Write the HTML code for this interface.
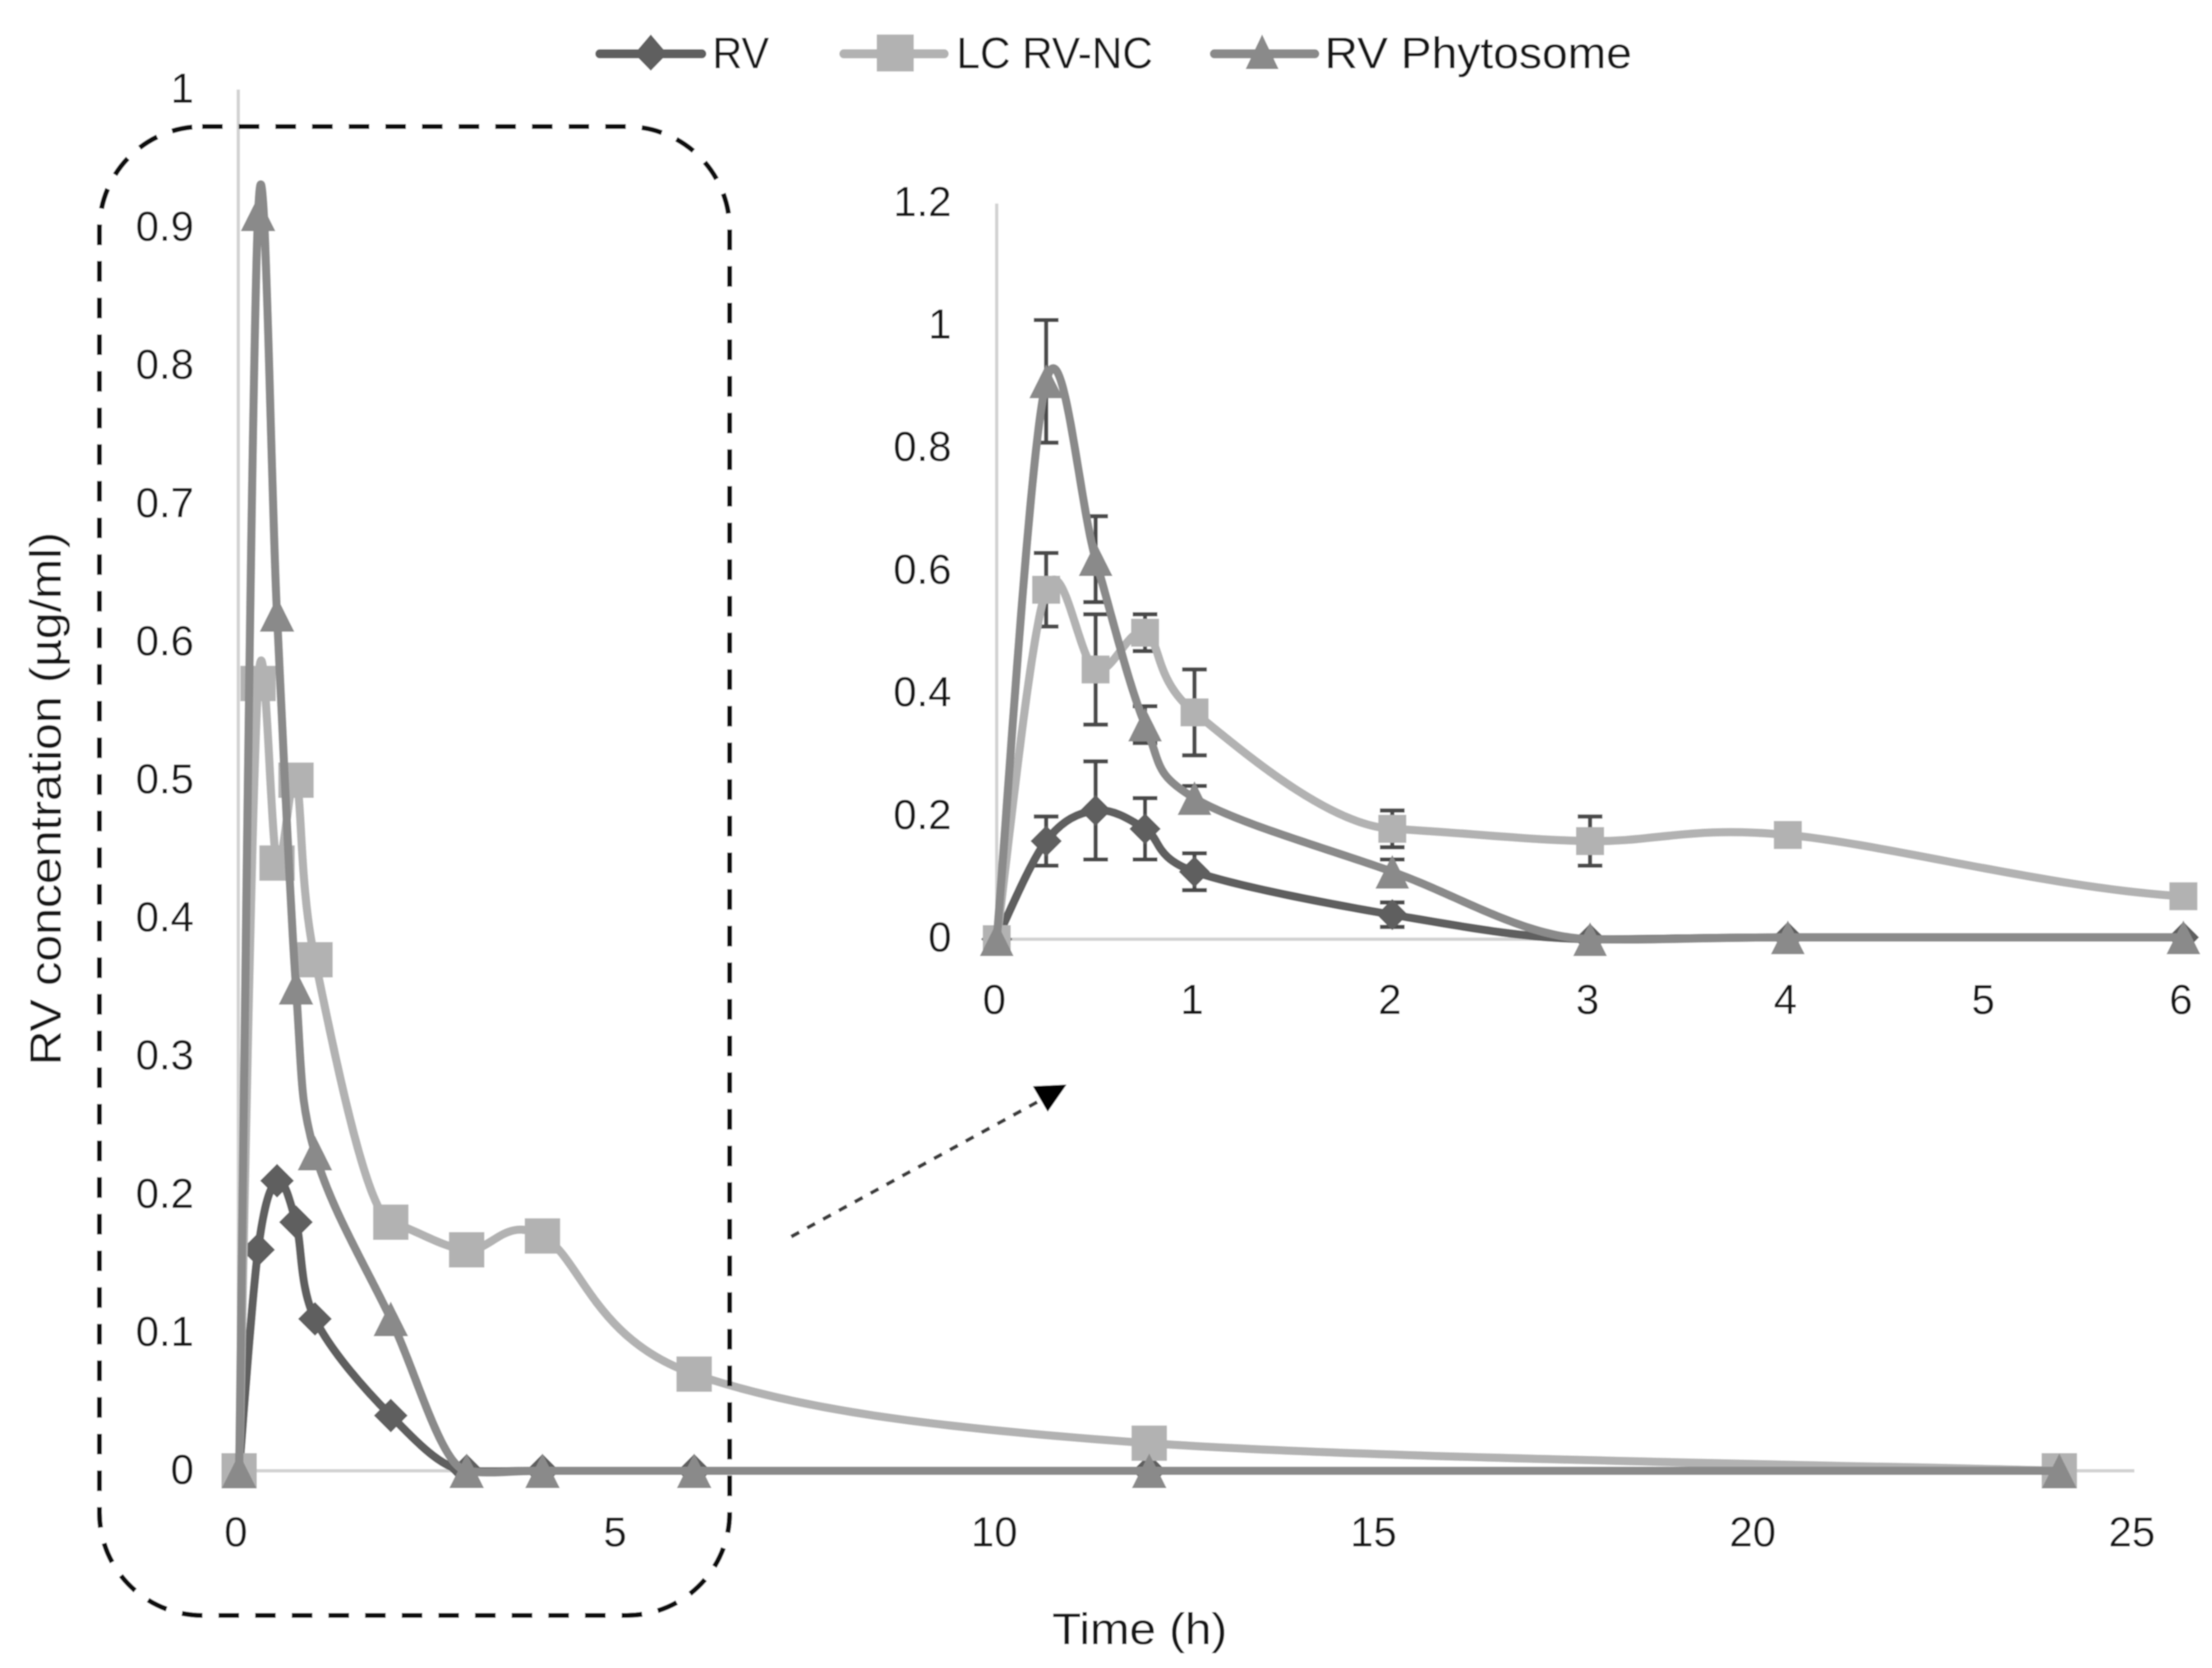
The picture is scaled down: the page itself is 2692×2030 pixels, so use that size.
<!DOCTYPE html>
<html lang="en">
<head>
<meta charset="utf-8">
<title>RV concentration over time</title>
<style>
html,body{margin:0;padding:0;background:#fff;}
svg{display:block;font-family:"Liberation Sans",sans-serif;}
text{fill:#141414;}
</style>
</head>
<body>
<svg id="chart" xmlns="http://www.w3.org/2000/svg" width="2692" height="2030" viewBox="0 0 2692 2030">
<defs><filter id="soft" x="0" y="0" width="100%" height="100%"><feGaussianBlur stdDeviation="0.9"/></filter></defs>
<g id="root" filter="url(#soft)">
<rect x="0" y="0" width="2692" height="2030" fill="#ffffff"/>
<g id="main-plot"></g>
<g id="inset-plot"></g>
<g>
  <g>
    <line x1="730" y1="65.5" x2="854" y2="65.5" stroke="#5f5f5f" stroke-width="11" stroke-linecap="round"/>
    <polygon points="792,42 812,65.5 792,86 772,65.5" fill="#5f5f5f"/>
    <text x="867" y="83" font-size="54" textLength="69" lengthAdjust="spacingAndGlyphs">RV</text>
  </g>
  <g>
    <line x1="1027" y1="65.5" x2="1149" y2="65.5" stroke="#b2b2b2" stroke-width="11" stroke-linecap="round"/>
    <rect x="1067" y="42" width="45" height="45" fill="#b2b2b2"/>
    <text x="1164" y="83" font-size="54" textLength="239" lengthAdjust="spacingAndGlyphs">LC RV-NC</text>
  </g>
  <g>
    <line x1="1478" y1="65.5" x2="1600" y2="65.5" stroke="#8a8a8a" stroke-width="11" stroke-linecap="round"/>
    <polygon points="1536,42 1556,84 1516,84" fill="#8a8a8a"/>
    <text x="1612" y="83" font-size="54" textLength="374" lengthAdjust="spacingAndGlyphs">RV Phytosome</text>
  </g>
</g>
<text transform="translate(74,972) rotate(-90)" text-anchor="middle" font-size="54" textLength="649" lengthAdjust="spacingAndGlyphs">RV concentration (µg/ml)</text>
<text x="1387" y="2001" text-anchor="middle" font-size="54" textLength="213" lengthAdjust="spacingAndGlyphs">Time (h)</text>
<rect x="121" y="154" width="767" height="1812" rx="125" ry="125" fill="none" stroke="#0a0a0a" stroke-width="6" stroke-dasharray="25 19.6"/>
<line x1="963" y1="1505" x2="1270" y2="1337" stroke="#3a3a3a" stroke-width="4.5" stroke-dasharray="11 11"/>
<polygon points="1257,1322 1298,1320 1275,1353" fill="#000000"/>
</g>
</svg>
<script>
// Shared data
const timePoints = [0, 0.25, 0.5, 0.75, 1, 2, 3, 4, 6, 12, 24];
const rvValues = [0, 0.16, 0.21, 0.18, 0.11, 0.04, 0, 0, 0, 0, 0];
const lcValues = [0, 0.57, 0.44, 0.5, 0.37, 0.18, 0.16, 0.17, 0.07, 0.02, 0];
const phytoValues = [0, 0.91, 0.62, 0.35, 0.23, 0.11, 0, 0, 0, 0, 0];
// Inset data (first 9 sampling points, with errors)
const insetTimePoints = [0, 0.25, 0.5, 0.75, 1, 2, 3, 4, 6];
const insetRvValues = [0, 0.16, 0.21, 0.18, 0.11, 0.04, 0, 0.003, 0.003];
const insetLcValues = [0, 0.57, 0.44, 0.5, 0.37, 0.18, 0.16, 0.17, 0.07];
const insetPhytoValues = [0, 0.91, 0.62, 0.35, 0.23, 0.11, 0, 0.003, 0.003];
const insetRvErrors = [0, 0.04, 0.08, 0.05, 0.03, 0.02, 0, 0, 0];
const insetLcErrors = [0, 0.06, 0.09, 0.03, 0.07, 0.03, 0.04, 0, 0];
const insetPhytoErrors = [0, 0.1, 0.07, 0.03, 0.02, 0.02, 0, 0, 0];
// The inset window cuts the series at 6 h; the next sample (12 h) still shapes the curve end.
const insetNextTime = 12;
const insetNextRv = 0.003;
const insetNextLc = 0.02;
const insetNextPhyto = 0.003;
// Tick labels
const mainXTicks = [0, 5, 10, 15, 20, 25];
const mainYTicks = [0, 0.1, 0.2, 0.3, 0.4, 0.5, 0.6, 0.7, 0.8, 0.9, 1];
const insetXTicks = [0, 1, 2, 3, 4, 5, 6];
const insetYTicks = [0, 0.2, 0.4, 0.6, 0.8, 1, 1.2];

const NS = 'http://www.w3.org/2000/svg';
const COLORS = { rv: '#5f5f5f', lc: '#b2b2b2', phyto: '#8a8a8a' };

const mainX = v => 291 + v * 92.3;
const mainY = v => 1790 - v * 1681;
const insetX = v => 1213 + v * 240.7;
const insetY = v => 1143 - v * 746;

function make(tag, parent, props) {
  const node = document.createElementNS(NS, tag);
  Object.keys(props).forEach(k => node.setAttribute(k, props[k]));
  parent.appendChild(node);
  return node;
}

function smoothPath(xs, ys, sx, sy, next) {
  const p = xs.map((x, i) => [sx(x), sy(ys[i])]);
  const n = p.length;
  const tangents = p.map((pt, i) => {
    const a = p[Math.max(i - 1, 0)], c = p[Math.min(i + 1, n - 1)];
    let tx = c[0] - a[0], ty = c[1] - a[1];
    const dyPrev = Math.abs(pt[1] - a[1]), dyNext = Math.abs(c[1] - pt[1]);
    // a curve running into a flat stretch barely overshoots
    if (i > 0 && i < n - 1 && dyPrev > 0 && dyNext < 0.15 * dyPrev) ty *= 0.15;
    return [tx, ty];
  });
  if (next) {
    const a = p[n - 2], q = [sx(next[0]), sy(next[1])];
    const slope = (q[1] - a[1]) / (q[0] - a[0]);
    const run = p[n - 1][0] - a[0];
    tangents[n - 1] = [run * 2, run * 2 * slope];
  }
  let d = 'M' + p[0][0].toFixed(1) + ' ' + p[0][1].toFixed(1);
  for (let i = 0; i < n - 1; i++) {
    const b = p[i], c = p[i + 1], t1 = tangents[i], t2 = tangents[i + 1];
    d += 'C' + [b[0] + t1[0] / 6, b[1] + t1[1] / 6, c[0] - t2[0] / 6, c[1] - t2[1] / 6, c[0], c[1]].map(v => v.toFixed(1)).join(' ');
  }
  return d;
}

function drawMarker(parent, kind, cx, cy, size, color) {
  const h = size / 2;
  if (kind === 'square') {
    return make('rect', parent, { x: cx - h, y: cy - h, width: size, height: size, fill: color });
  }
  if (kind === 'diamond') {
    return make('polygon', parent, { points: [cx, cy - h, cx + h, cy, cx, cy + h, cx - h, cy].join(' '), fill: color });
  }
  return make('polygon', parent, { points: [cx, cy - h, cx + h, cy + h, cx - h, cy + h].join(' '), fill: color });
}

function drawAxes(group, prefix, sx, sy, xTicks, yTicks, xEnd, yEnd, xLabelY, yLabelRight, xLabelShift, axisShift, yLabelShift) {
  const yAxis = make('line', group, { x1: sx(0) + axisShift, y1: sy(yEnd), x2: sx(0) + axisShift, y2: sy(0), stroke: '#d2d2d2', 'stroke-width': 4 });
  
  
  const xAxis = make('line', group, { x1: sx(0) + axisShift, y1: sy(0), x2: sx(xEnd) + axisShift, y2: sy(0), stroke: '#d2d2d2', 'stroke-width': 4 });
  
  
  xTicks.forEach(t => {
    const label = make('text', group, { x: sx(t) + xLabelShift, y: xLabelY, 'text-anchor': 'middle', 'font-size': 51 });
    label.textContent = String(t);
    
    
  });
  yTicks.forEach(t => {
    const label = make('text', group, { x: yLabelRight, y: sy(t) + yLabelShift, 'text-anchor': 'end', 'font-size': 51 });
    label.textContent = String(t);
    
    
  });
}

function drawSeries(group, prefix, key, kind, xs, ys, sx, sy, size, width, next) {
  const line = make('path', group, { d: smoothPath(xs, ys, sx, sy, next), fill: 'none', stroke: COLORS[key], 'stroke-width': width, 'stroke-linecap': 'round', 'stroke-linejoin': 'round' });
  
  
  xs.forEach((x, i) => {
    const mark = drawMarker(group, kind, sx(x), sy(ys[i]), size, COLORS[key]);
    
    
  });
}

function drawErrors(group, key, xs, ys, errs, sx, sy) {
  xs.forEach((x, i) => {
    if (!errs[i]) return;
    const cx = sx(x), top = sy(ys[i] + errs[i]), bot = sy(ys[i] - errs[i]);
    const bar = make('path', group, {
      d: 'M' + (cx - 15) + ' ' + top + 'H' + (cx + 15) + 'M' + cx + ' ' + top + 'V' + bot + 'M' + (cx - 15) + ' ' + bot + 'H' + (cx + 15),
      fill: 'none', stroke: '#4a4a4a', 'stroke-width': 5
    });
    
    
  });
}

const mainGroup = document.getElementById('main-plot');
drawAxes(mainGroup, 'main', mainX, mainY, mainXTicks, mainYTicks, 25, 1, 1882, 236, -4, -1, 16);
drawSeries(mainGroup, 'main', 'rv', 'diamond', timePoints, rvValues, mainX, mainY, 41, 10);
drawSeries(mainGroup, 'main', 'lc', 'square', timePoints, lcValues, mainX, mainY, 43, 10);
drawSeries(mainGroup, 'main', 'phyto', 'triangle', timePoints, phytoValues, mainX, mainY, 42, 10);

const insetGroup = document.getElementById('inset-plot');
drawAxes(insetGroup, 'inset', insetX, insetY, insetXTicks, insetYTicks, 6, 1.2, 1234, 1158, -3, 0, 15);
drawErrors(insetGroup, 'rv', insetTimePoints, insetRvValues, insetRvErrors, insetX, insetY);
drawErrors(insetGroup, 'lc', insetTimePoints, insetLcValues, insetLcErrors, insetX, insetY);
drawErrors(insetGroup, 'phyto', insetTimePoints, insetPhytoValues, insetPhytoErrors, insetX, insetY);
drawSeries(insetGroup, 'inset', 'rv', 'diamond', insetTimePoints, insetRvValues, insetX, insetY, 38, 10, [insetNextTime, insetNextRv]);
drawSeries(insetGroup, 'inset', 'lc', 'square', insetTimePoints, insetLcValues, insetX, insetY, 34, 10, [insetNextTime, insetNextLc]);
drawSeries(insetGroup, 'inset', 'phyto', 'triangle', insetTimePoints, insetPhytoValues, insetX, insetY, 41, 10, [insetNextTime, insetNextPhyto]);
</script>
</body>
</html>
